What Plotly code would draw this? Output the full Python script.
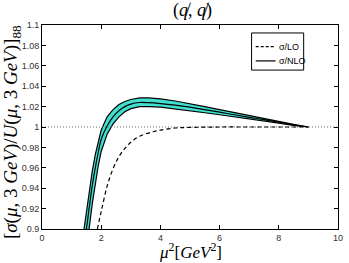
import plotly.graph_objects as go

# NLO central curve
nlo_x = [1.5, 1.6, 1.7, 1.8, 1.9, 2.0, 2.2, 2.4, 2.6, 2.8, 3.0, 3.3, 3.6, 4.0, 4.5, 5.0, 5.5, 6.0, 6.5, 7.0, 7.5, 8.0, 8.5, 9.0]
nlo_y = [0.900, 0.922, 0.943, 0.960, 0.975, 0.988, 1.001, 1.010, 1.016, 1.020, 1.0225, 1.024, 1.0238, 1.023, 1.0215, 1.0195, 1.017, 1.0145, 1.012, 1.0095, 1.0072, 1.0047, 1.002, 1.000]

# NLO band upper edge
up_x = [1.42, 1.5, 1.6, 1.7, 1.8, 1.9, 2.0, 2.2, 2.4, 2.6, 2.8, 3.0, 3.3, 3.6, 4.0, 4.5, 5.0, 5.5, 6.0, 6.5, 7.0, 7.5, 8.0, 8.5, 9.0]
up_y = [0.900, 0.917, 0.938, 0.957, 0.973, 0.986, 0.997, 1.010, 1.017, 1.022, 1.025, 1.027, 1.0285, 1.0285, 1.0275, 1.0255, 1.0230, 1.0200, 1.0170, 1.0140, 1.0110, 1.0080, 1.0052, 1.0025, 1.000]

# NLO band lower edge
lo_x = [1.59, 1.7, 1.8, 1.9, 2.0, 2.2, 2.4, 2.6, 2.8, 3.0, 3.3, 3.6, 4.0, 4.5, 5.0, 5.5, 6.0, 6.5, 7.0, 7.5, 8.0, 8.5, 9.0]
lo_y = [0.900, 0.925, 0.945, 0.962, 0.976, 0.993, 1.003, 1.010, 1.015, 1.018, 1.0200, 1.0200, 1.0195, 1.0180, 1.0160, 1.0140, 1.0120, 1.0100, 1.0080, 1.0060, 1.0038, 1.0015, 1.000]

# LO curve (dashed)
lo_curve_x = [1.87, 2.0, 2.2, 2.4, 2.6, 2.8, 3.0, 3.3, 3.7, 4.0, 4.5, 5.0, 6.0, 7.0, 8.0, 9.0]
lo_curve_y = [0.900, 0.917, 0.942, 0.959, 0.971, 0.979, 0.985, 0.991, 0.995, 0.997, 0.9990, 0.9996, 1.0, 1.0, 1.0, 1.0]

ref_x = [0, 10]
ref_y = [1, 1]

x_ticks = [0, 2, 4, 6, 8, 10]
y_ticks = [0.9, 0.92, 0.94, 0.96, 0.98, 1.0, 1.02, 1.04, 1.06, 1.08, 1.1]
y_tick_text = ["0.9", "0.92", "0.94", "0.96", "0.98", "1", "1.02", "1.04", "1.06", "1.08", "1.1"]

legend_labels = ["σ/LO", "σ/NLO"]

fig = go.Figure()

# band polygon
band_x = up_x + lo_x[::-1]
band_y = up_y + lo_y[::-1]
fig.add_trace(go.Scatter(x=band_x, y=band_y, fill="toself", fillcolor="rgb(64,224,208)",
                         line=dict(color="black", width=1.2), mode="lines",
                         showlegend=False, hoverinfo="skip"))

fig.add_trace(go.Scatter(x=ref_x, y=ref_y, mode="lines",
                         line=dict(color="rgb(110,110,110)", width=1, dash="1px,2px"),
                         showlegend=False))

fig.add_trace(go.Scatter(x=lo_curve_x, y=lo_curve_y, mode="lines", name=legend_labels[0],
                         showlegend=False,
                         line=dict(color="black", width=1.2, dash="4px,3px", shape="spline")))

fig.add_trace(go.Scatter(x=nlo_x, y=nlo_y, mode="lines", name=legend_labels[1],
                         showlegend=False,
                         line=dict(color="black", width=1.2, shape="spline")))

axis_common = dict(showline=True, linecolor="black", linewidth=1, mirror="ticks",
                   ticks="inside", ticklen=4, tickcolor="black", showgrid=False,
                   zeroline=False, tickfont=dict(family="Liberation Sans, Arial", size=9, color="#333"))

fig.update_xaxes(range=[0, 10], tickvals=x_ticks, **axis_common)
fig.update_yaxes(range=[0.9, 1.1], tickvals=y_ticks, ticktext=y_tick_text, **axis_common)

serif = "Liberation Serif, Times New Roman, serif"
sans = "Liberation Sans, Arial"

# custom compact legend box (paper coordinates)
leg_x0, leg_x1, leg_y0, leg_y1 = 0.708, 0.884, 0.779, 0.961
leg_rows = [0.894, 0.824]
leg_dash = ["3px,2px", "solid"]
shapes = [dict(type="rect", xref="paper", yref="paper", x0=leg_x0, x1=leg_x1, y0=leg_y0, y1=leg_y1,
               line=dict(color="black", width=1), fillcolor="white", layer="above")]
annotations = []
for lbl, ry, ds in zip(legend_labels, leg_rows, leg_dash):
    shapes.append(dict(type="line", xref="paper", yref="paper", x0=0.722, x1=0.789, y0=ry, y1=ry,
                       line=dict(color="black", width=1.2, dash=ds), layer="above"))
    annotations.append(dict(text=lbl, x=0.793, y=ry, xref="paper", yref="paper",
                            xanchor="left", yanchor="middle", showarrow=False,
                            font=dict(family=sans, size=9, color="black")))

annotations += [
    dict(text="(<i>q̸</i>, <i>q̸</i>)", x=0.51, y=1.0, xref="paper", yref="paper",
         xanchor="center", yanchor="bottom", yshift=2, showarrow=False,
         font=dict(family=serif, size=18, color="black")),
    dict(text="<i>μ</i><sup>2</sup>[<i>GeV</i><sup>2</sup>]", x=0.5, y=0, xref="paper", yref="paper",
         xanchor="center", yanchor="top", yshift=-9, showarrow=False,
         font=dict(family=serif, size=17, color="black")),
    dict(text="[<i>σ</i>(<i>μ</i>, 3 <i>GeV</i>)/<i>U</i>(<i>μ</i>, 3 <i>GeV</i>)]<sub>88</sub>",
         x=0, y=0.475, xref="paper", yref="paper", xanchor="right", yanchor="middle",
         xshift=-16, textangle=-90, showarrow=False,
         font=dict(family=serif, size=19, color="black")),
]

fig.update_layout(
    width=349, height=263,
    margin=dict(l=42, r=6, t=25, b=34),
    plot_bgcolor="white", paper_bgcolor="white",
    showlegend=False,
    shapes=shapes,
    annotations=annotations,
)

fig.write_html("out.html", config={"displayModeBar": False},
               post_script="document.body.style.margin='0';")
